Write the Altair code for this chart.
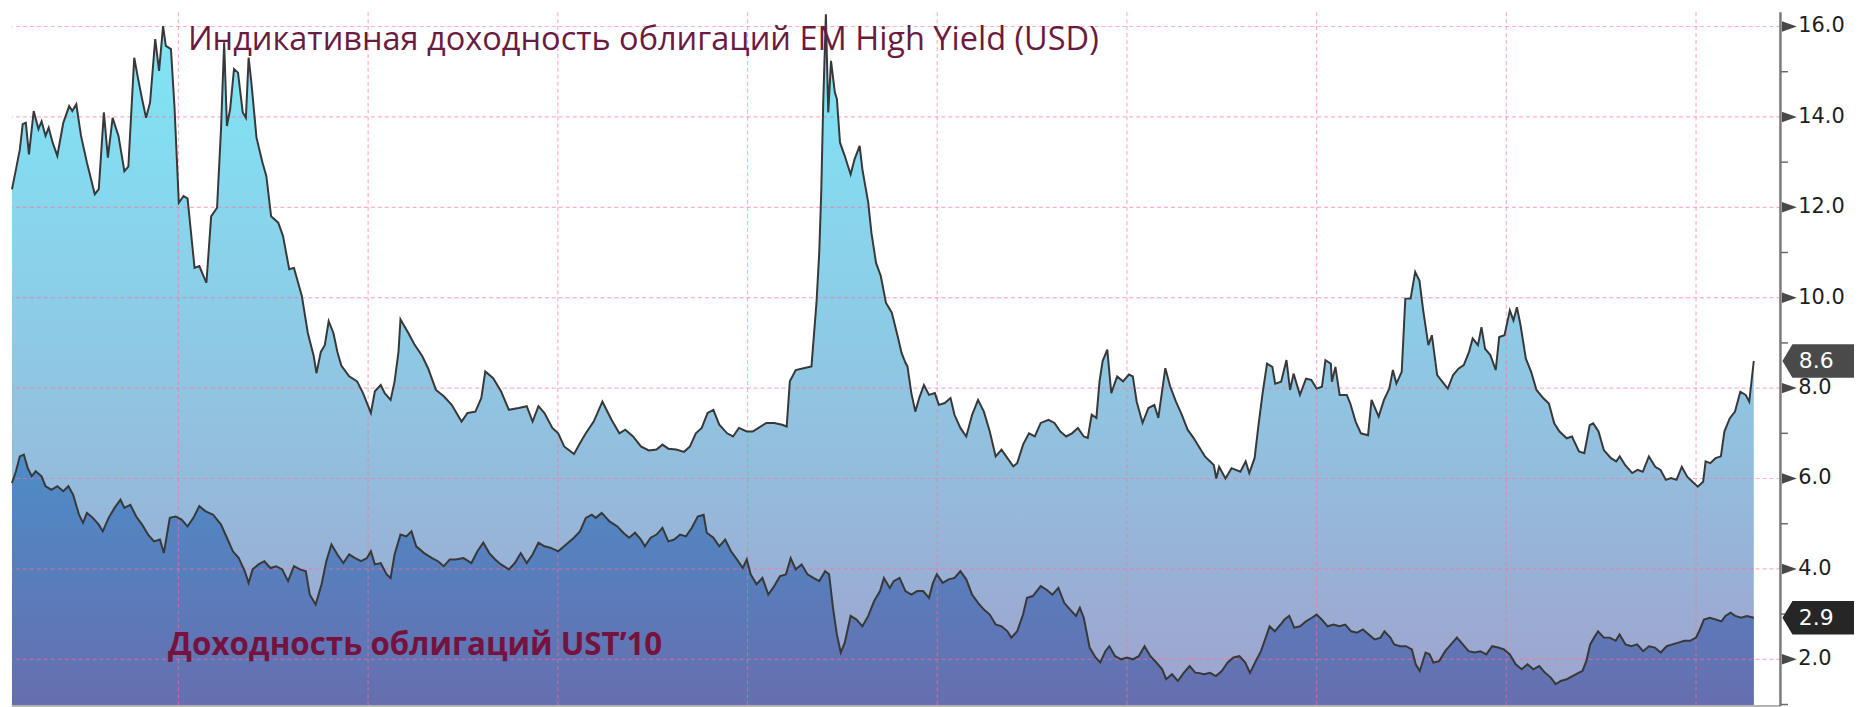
import altair as alt
import pandas as pd

# ---------------- data ----------------
em_years = [2000.245, 2000.287, 2000.328, 2000.358, 2000.391, 2000.424, 2000.474, 2000.524, 2000.557, 2000.599,
            2000.632, 2000.674, 2000.723, 2000.786, 2000.848, 2000.881, 2000.923, 2000.973, 2001.035, 2001.118,
            2001.160, 2001.214, 2001.256, 2001.306, 2001.368, 2001.430, 2001.472, 2001.534, 2001.576, 2001.617,
            2001.659, 2001.701, 2001.755, 2001.796, 2001.838, 2001.867, 2001.921, 2001.958, 2002.004, 2002.054,
            2002.096, 2002.170, 2002.220, 2002.295, 2002.345, 2002.407, 2002.449, 2002.482, 2002.511, 2002.545,
            2002.586, 2002.628, 2002.678, 2002.711, 2002.740, 2002.769, 2002.823, 2002.886, 2002.927, 2002.977,
            2003.052, 2003.102, 2003.168, 2003.218, 2003.301, 2003.364, 2003.426, 2003.455, 2003.501, 2003.543,
            2003.584, 2003.634, 2003.676, 2003.717, 2003.800, 2003.884, 2003.946, 2004.029, 2004.071, 2004.133,
            2004.175, 2004.237, 2004.279, 2004.320, 2004.341, 2004.424, 2004.487, 2004.570, 2004.632, 2004.715,
            2004.798, 2004.881, 2004.985, 2005.048, 2005.131, 2005.193, 2005.235, 2005.318, 2005.401, 2005.484,
            2005.588, 2005.672, 2005.734, 2005.796, 2005.859, 2005.942, 2006.004, 2006.067, 2006.170, 2006.233,
            2006.295, 2006.378, 2006.470, 2006.566, 2006.649, 2006.711, 2006.793, 2006.876, 2006.959, 2007.041,
            2007.103, 2007.165, 2007.248, 2007.331, 2007.393, 2007.455, 2007.517, 2007.579, 2007.640, 2007.702,
            2007.785, 2007.847, 2007.909, 2007.992, 2008.054, 2008.116, 2008.198, 2008.281, 2008.364, 2008.413,
            2008.446, 2008.508, 2008.591, 2008.674, 2008.727, 2008.756, 2008.777, 2008.798, 2008.826, 2008.851,
            2008.880, 2008.921, 2008.942, 2008.975, 2009.025, 2009.058, 2009.087, 2009.128, 2009.182, 2009.211,
            2009.273, 2009.306, 2009.355, 2009.405, 2009.459, 2009.521, 2009.583, 2009.624, 2009.665, 2009.686,
            2009.727, 2009.769, 2009.810, 2009.860, 2009.913, 2009.975, 2010.017, 2010.079, 2010.140, 2010.182,
            2010.244, 2010.306, 2010.368, 2010.430, 2010.492, 2010.554, 2010.616, 2010.678, 2010.740, 2010.802,
            2010.843, 2010.905, 2010.967, 2011.029, 2011.091, 2011.174, 2011.236, 2011.298, 2011.360, 2011.421,
            2011.483, 2011.545, 2011.587, 2011.628, 2011.678, 2011.711, 2011.744, 2011.793, 2011.835, 2011.897,
            2011.959, 2012.021, 2012.062, 2012.103, 2012.165, 2012.227, 2012.289, 2012.331, 2012.405, 2012.455,
            2012.517, 2012.579, 2012.640, 2012.702, 2012.748, 2012.822, 2012.916, 2012.942, 2012.972, 2013.039,
            2013.103, 2013.196, 2013.252, 2013.290, 2013.346, 2013.383, 2013.428, 2013.477, 2013.533, 2013.563,
            2013.626, 2013.682, 2013.720, 2013.757, 2013.824, 2013.888, 2013.944, 2014.000, 2014.056, 2014.093,
            2014.150, 2014.161, 2014.198, 2014.243, 2014.318, 2014.355, 2014.411, 2014.467, 2014.542, 2014.579,
            2014.654, 2014.710, 2014.766, 2014.804, 2014.841, 2014.897, 2014.935, 2014.991, 2015.039, 2015.084,
            2015.121, 2015.178, 2015.215, 2015.271, 2015.327, 2015.383, 2015.439, 2015.495, 2015.551, 2015.607,
            2015.645, 2015.701, 2015.738, 2015.776, 2015.832, 2015.888, 2015.925, 2015.981, 2016.037, 2016.075,
            2016.112, 2016.150, 2016.206, 2016.262, 2016.318, 2016.393, 2016.449, 2016.505, 2016.561, 2016.636,
            2016.692, 2016.766, 2016.822, 2016.879, 2016.916, 2016.972, 2017.028, 2017.103, 2017.159, 2017.196,
            2017.252, 2017.327, 2017.383, 2017.439, 2017.503, 2017.570, 2017.626, 2017.682, 2017.738, 2017.794,
            2017.850, 2017.907, 2017.963, 2018.019, 2018.075, 2018.101, 2018.150, 2018.206, 2018.262, 2018.299,
            2018.355, 2018.411, 2018.467, 2018.523, 2018.561, 2018.609]
em_values = [12.40, 12.84, 13.28, 13.84, 13.87, 13.17, 14.13, 13.73, 13.90, 13.58,
             13.76, 13.43, 13.14, 13.87, 14.24, 14.13, 14.28, 13.58, 12.99, 12.29,
             12.40, 14.10, 13.10, 13.98, 13.58, 12.80, 12.90, 15.31, 14.83, 14.39,
             13.98, 14.32, 15.72, 15.02, 16.01, 15.57, 15.50, 14.24, 12.10, 12.25,
             12.20, 10.66, 10.70, 10.33, 11.80, 11.99, 13.73, 15.65, 13.80, 14.17,
             15.06, 14.98, 14.10, 13.98, 15.31, 14.76, 13.54, 12.99, 12.69, 11.80,
             11.66, 11.37, 10.63, 10.66, 10.04, 9.22, 8.71, 8.33, 8.80, 8.95,
             9.48, 9.22, 8.80, 8.50, 8.26, 8.15, 7.89, 7.45, 7.93, 8.07,
             7.89, 7.74, 8.15, 8.80, 9.52, 9.22, 8.97, 8.71, 8.44, 7.96,
             7.82, 7.63, 7.26, 7.45, 7.48, 7.78, 8.37, 8.22, 7.93, 7.52,
             7.56, 7.60, 7.26, 7.60, 7.45, 7.12, 7.00, 6.71, 6.54, 6.78,
             7.00, 7.26, 7.70, 7.30, 7.00, 7.08, 6.93, 6.71, 6.62, 6.64,
             6.75, 6.66, 6.64, 6.59, 6.71, 7.00, 7.12, 7.45, 7.52, 7.19,
             7.00, 6.93, 7.12, 7.04, 7.04, 7.12, 7.23, 7.23, 7.19, 7.15,
             8.15, 8.40, 8.44, 8.48, 9.89, 11.00, 12.32, 14.32, 16.27, 14.10,
             15.24, 14.54, 14.40, 13.43, 13.14, 12.92, 12.73, 13.06, 13.36, 12.84,
             12.10, 11.44, 10.77, 10.48, 9.89, 9.67, 9.15, 8.78, 8.56, 8.48,
             7.89, 7.48, 7.78, 8.07, 7.85, 7.89, 7.63, 7.67, 7.78, 7.41,
             7.12, 6.93, 7.41, 7.74, 7.48, 7.04, 6.49, 6.64, 6.45, 6.27,
             6.34, 6.75, 7.00, 6.93, 7.23, 7.30, 7.23, 7.04, 6.93, 7.00,
             7.12, 6.93, 6.90, 7.41, 7.34, 8.15, 8.60, 8.85, 7.89, 8.26,
             8.15, 8.30, 8.26, 7.70, 7.23, 7.56, 7.63, 7.34, 8.44, 8.04,
             7.70, 7.41, 7.08, 6.90, 6.74, 6.49, 6.30, 6.00, 6.26, 6.00,
             6.23, 6.15, 6.38, 6.12, 6.45, 7.11, 7.85, 8.54, 8.47, 8.10,
             8.14, 8.62, 7.96, 8.32, 7.85, 8.21, 8.18, 7.99, 8.03, 8.62,
             8.54, 8.14, 8.47, 7.85, 7.85, 7.66, 7.26, 7.00, 6.96, 7.74,
             7.37, 7.74, 7.99, 8.40, 8.10, 8.36, 9.98, 9.98, 10.57, 10.38,
             9.76, 8.95, 9.17, 8.29, 8.14, 7.99, 8.29, 8.43, 8.51, 8.80,
             9.10, 8.95, 9.35, 8.87, 8.73, 8.40, 9.13, 9.17, 9.72, 9.50,
             9.79, 9.39, 8.65, 8.36, 7.96, 7.77, 7.66, 7.22, 7.04, 6.89,
             6.93, 6.60, 6.56, 7.18, 7.22, 7.04, 6.63, 6.45, 6.38, 6.49,
             6.30, 6.12, 6.19, 6.15, 6.49, 6.26, 6.19, 5.97, 6.01, 5.97,
             6.26, 6.04, 5.93, 5.82, 5.93, 6.38, 6.34, 6.45, 6.49, 7.04,
             7.33, 7.48, 7.92, 7.85, 7.70, 8.60]

ust_years = [2000.245, 2000.287, 2000.328, 2000.370, 2000.412, 2000.453, 2000.495, 2000.557, 2000.599, 2000.661,
             2000.723, 2000.786, 2000.840, 2000.890, 2000.952, 2000.994, 2001.035, 2001.098, 2001.160, 2001.202,
             2001.264, 2001.326, 2001.389, 2001.430, 2001.493, 2001.555, 2001.617, 2001.680, 2001.742, 2001.805,
             2001.846, 2001.909, 2001.971, 2002.033, 2002.096, 2002.158, 2002.220, 2002.283, 2002.366, 2002.449,
             2002.511, 2002.574, 2002.636, 2002.699, 2002.740, 2002.782, 2002.844, 2002.906, 2002.969, 2003.031,
             2003.094, 2003.156, 2003.218, 2003.281, 2003.343, 2003.385, 2003.447, 2003.509, 2003.559, 2003.613,
             2003.676, 2003.738, 2003.800, 2003.863, 2003.925, 2003.988, 2004.029, 2004.071, 2004.133, 2004.195,
             2004.237, 2004.279, 2004.341, 2004.403, 2004.457, 2004.507, 2004.590, 2004.674, 2004.736, 2004.798,
             2004.861, 2004.923, 2005.006, 2005.089, 2005.152, 2005.214, 2005.277, 2005.339, 2005.401, 2005.484,
             2005.547, 2005.609, 2005.672, 2005.734, 2005.796, 2005.859, 2005.921, 2006.004, 2006.087, 2006.170,
             2006.233, 2006.295, 2006.358, 2006.400, 2006.462, 2006.545, 2006.628, 2006.690, 2006.752, 2006.814,
             2006.876, 2006.917, 2006.979, 2007.041, 2007.103, 2007.165, 2007.227, 2007.289, 2007.351, 2007.413,
             2007.475, 2007.537, 2007.570, 2007.640, 2007.702, 2007.764, 2007.826, 2007.888, 2007.950, 2007.992,
             2008.033, 2008.095, 2008.157, 2008.219, 2008.281, 2008.343, 2008.405, 2008.455, 2008.508, 2008.570,
             2008.632, 2008.694, 2008.756, 2008.818, 2008.860, 2008.901, 2008.942, 2008.983, 2009.025, 2009.087,
             2009.149, 2009.211, 2009.273, 2009.335, 2009.397, 2009.438, 2009.500, 2009.541, 2009.603, 2009.665,
             2009.727, 2009.789, 2009.851, 2009.913, 2009.955, 2009.996, 2010.058, 2010.120, 2010.182, 2010.244,
             2010.306, 2010.368, 2010.430, 2010.492, 2010.554, 2010.616, 2010.678, 2010.740, 2010.781, 2010.843,
             2010.905, 2010.946, 2011.008, 2011.091, 2011.153, 2011.215, 2011.277, 2011.339, 2011.401, 2011.463,
             2011.504, 2011.545, 2011.607, 2011.669, 2011.719, 2011.773, 2011.814, 2011.876, 2011.938, 2012.000,
             2012.062, 2012.124, 2012.186, 2012.248, 2012.310, 2012.372, 2012.413, 2012.475, 2012.537, 2012.599,
             2012.661, 2012.723, 2012.752, 2012.814, 2012.876, 2012.938, 2013.000, 2013.062, 2013.124, 2013.186,
             2013.248, 2013.298, 2013.351, 2013.413, 2013.475, 2013.504, 2013.558, 2013.620, 2013.661, 2013.711,
             2013.764, 2013.826, 2013.888, 2013.950, 2014.000, 2014.054, 2014.116, 2014.178, 2014.240, 2014.302,
             2014.364, 2014.426, 2014.488, 2014.550, 2014.612, 2014.674, 2014.715, 2014.777, 2014.818, 2014.880,
             2014.942, 2015.004, 2015.045, 2015.087, 2015.149, 2015.190, 2015.231, 2015.293, 2015.355, 2015.417,
             2015.479, 2015.541, 2015.603, 2015.665, 2015.727, 2015.789, 2015.851, 2015.913, 2015.975, 2016.037,
             2016.099, 2016.161, 2016.223, 2016.285, 2016.347, 2016.409, 2016.471, 2016.521, 2016.574, 2016.636,
             2016.698, 2016.760, 2016.802, 2016.843, 2016.884, 2016.926, 2016.967, 2017.029, 2017.091, 2017.153,
             2017.194, 2017.256, 2017.318, 2017.380, 2017.442, 2017.504, 2017.566, 2017.628, 2017.690, 2017.752,
             2017.814, 2017.876, 2017.938, 2018.000, 2018.041, 2018.083, 2018.145, 2018.207, 2018.269, 2018.310,
             2018.364, 2018.413, 2018.475, 2018.537, 2018.609]
ust_values = [5.90, 6.16, 6.49, 6.53, 6.23, 6.05, 6.16, 6.05, 5.83, 5.75,
              5.83, 5.72, 5.83, 5.64, 5.20, 5.02, 5.24, 5.13, 4.98, 4.83,
              5.13, 5.35, 5.53, 5.35, 5.42, 5.16, 4.98, 4.76, 4.61, 4.65,
              4.35, 5.13, 5.16, 5.09, 4.94, 5.13, 5.39, 5.28, 5.20, 4.98,
              4.69, 4.39, 4.24, 3.95, 3.69, 3.99, 4.10, 4.17, 4.02, 4.06,
              3.99, 3.73, 4.06, 3.99, 3.95, 3.43, 3.21, 3.66, 4.17, 4.54,
              4.32, 4.13, 4.32, 4.24, 4.17, 4.24, 4.39, 4.10, 4.13, 3.88,
              3.80, 4.32, 4.76, 4.72, 4.83, 4.50, 4.35, 4.24, 4.17, 4.06,
              4.21, 4.21, 4.24, 4.13, 4.39, 4.58, 4.35, 4.21, 4.10, 3.99,
              4.13, 4.35, 4.13, 4.32, 4.58, 4.50, 4.47, 4.39, 4.54, 4.69,
              4.83, 5.13, 5.20, 5.13, 5.24, 5.05, 4.94, 4.80, 4.69, 4.80,
              4.65, 4.50, 4.69, 4.76, 4.91, 4.61, 4.65, 4.76, 4.72, 4.91,
              5.16, 5.20, 4.80, 4.69, 4.50, 4.65, 4.39, 4.21, 4.02, 4.21,
              3.88, 3.66, 3.80, 3.43, 3.62, 3.84, 3.88, 4.24, 3.99, 4.10,
              3.88, 3.80, 3.73, 3.95, 3.88, 3.14, 2.55, 2.15, 2.37, 2.96,
              2.88, 2.73, 2.96, 3.29, 3.51, 3.80, 3.58, 3.73, 3.80, 3.51,
              3.43, 3.51, 3.51, 3.36, 3.69, 3.88, 3.69, 3.77, 3.80, 3.95,
              3.77, 3.43, 3.25, 3.10, 2.99, 2.77, 2.73, 2.62, 2.48, 2.62,
              2.99, 3.36, 3.40, 3.62, 3.54, 3.43, 3.58, 3.25, 3.10, 2.96,
              3.14, 2.92, 2.26, 2.04, 1.93, 2.18, 2.29, 2.07, 2.00, 2.04,
              2.00, 2.07, 2.29, 2.07, 1.93, 1.78, 1.56, 1.67, 1.52, 1.70,
              1.85, 1.70, 1.70, 1.67, 1.70, 1.63, 1.74, 1.93, 2.04, 2.07,
              1.93, 1.70, 1.93, 2.18, 2.55, 2.73, 2.62, 2.77, 2.88, 2.96,
              2.70, 2.73, 2.84, 2.92, 2.99, 2.88, 2.73, 2.77, 2.73, 2.77,
              2.62, 2.59, 2.66, 2.55, 2.44, 2.48, 2.62, 2.48, 2.33, 2.29,
              2.29, 2.22, 1.89, 1.74, 2.15, 2.11, 1.93, 1.96, 2.18, 2.33,
              2.48, 2.33, 2.18, 2.15, 2.18, 2.11, 2.29, 2.26, 2.22, 2.11,
              1.89, 1.78, 1.89, 1.78, 1.85, 1.70, 1.59, 1.45, 1.52, 1.56,
              1.63, 1.70, 1.74, 1.96, 2.33, 2.48, 2.62, 2.48, 2.48, 2.41,
              2.55, 2.33, 2.29, 2.33, 2.18, 2.29, 2.26, 2.15, 2.29, 2.33,
              2.37, 2.41, 2.41, 2.48, 2.66, 2.88, 2.92, 2.88, 2.84, 2.96,
              3.03, 2.96, 2.92, 2.96, 2.92]

grid_years = [2002, 2004, 2006, 2008, 2010, 2012, 2014, 2016, 2018]
grid_values = [2, 4, 6, 8, 10, 12, 14, 16]
minor_values = [1, 3, 5, 7, 9, 11, 13, 15]
x_domain = [2000.245, 2018.89]
y_domain = [0.966, 16.317]

title_text = "Индикативная доходность облигаций EM High Yield (USD)"
title_pos = [2002.10, 15.48]
ust_text = "Доходность облигаций UST’10"
ust_pos = [2001.891, 2.09]

# ---------------- frames ----------------
x_end = x_domain[1]
em_df = pd.DataFrame({"year": em_years, "value": em_values})
ust_df = pd.DataFrame({"year": ust_years, "value": ust_values})
major_df = pd.DataFrame({"year": [x_end] * len(grid_values), "value": grid_values,
                         "label": [f"{v:.1f}" for v in grid_values]})
minor_df = pd.DataFrame({"year": [x_end] * len(minor_values), "value": minor_values})
edge_df = pd.DataFrame({"year": [x_end], "value": [y_domain[0]]})
tags_df = pd.DataFrame({
    "year": [x_end, x_end],
    "series": ["em", "ust"],
    "value": [em_values[-1], ust_values[-1]],
    "label": [f"{em_values[-1]:.1f}", f"{ust_values[-1]:.1f}"],
})
title_df = pd.DataFrame({"year": [title_pos[0]], "value": [title_pos[1]], "text": [title_text]})
ust_note_df = pd.DataFrame({"year": [ust_pos[0]], "value": [ust_pos[1]], "text": [ust_text]})

xs = alt.Scale(domain=x_domain, nice=False, zero=False)
ys = alt.Scale(domain=y_domain, nice=False, zero=False)
X = alt.X("year:Q", scale=xs, axis=None)
Y = alt.Y("value:Q", scale=ys, axis=None)

em_grad = alt.Gradient(
    gradient="linear", x1=0, x2=0, y1=0, y2=1,
    stops=[
        alt.GradientStop(color="#7ee7f7", offset=0.0),
        alt.GradientStop(color="#88d5ec", offset=0.28),
        alt.GradientStop(color="#91c3e0", offset=0.54),
        alt.GradientStop(color="#95b9da", offset=0.67),
        alt.GradientStop(color="#9aadd3", offset=0.80),
        alt.GradientStop(color="#9ea4cd", offset=0.93),
        alt.GradientStop(color="#a09fca", offset=1.0),
    ],
)
ust_grad = alt.Gradient(
    gradient="linear", x1=0, x2=0, y1=0, y2=1,
    stops=[
        alt.GradientStop(color="#4b8dc8", offset=0.0),
        alt.GradientStop(color="#4f8ac5", offset=0.09),
        alt.GradientStop(color="#5a7cbb", offset=0.45),
        alt.GradientStop(color="#6570b0", offset=0.81),
        alt.GradientStop(color="#6a66a9", offset=1.0),
    ],
)

em_area = alt.Chart(em_df).mark_area(color=em_grad).encode(x=X, y=Y)
ust_area = alt.Chart(ust_df).mark_area(color=ust_grad).encode(x=X, y=Y)

grid_style = dict(color="#ff6f96", opacity=0.55, strokeDash=[4, 3], strokeWidth=1.2)
vgrid = alt.Chart(pd.DataFrame({"year": grid_years})).mark_rule(**grid_style).encode(x=X)
hgrid = alt.Chart(major_df).mark_rule(**grid_style).encode(y=Y)

em_line = alt.Chart(em_df).mark_line(color="#383838", strokeWidth=2).encode(x=X, y=Y)
ust_line = alt.Chart(ust_df).mark_line(color="#383838", strokeWidth=2).encode(x=X, y=Y)

# right-hand value axis, drawn from the tick lists
bottom_line = alt.Chart(edge_df).mark_rule(color="#b4b4b4", strokeWidth=2).encode(y=Y)
axis_line = alt.Chart(edge_df).mark_rule(color="#7a7a7a", strokeWidth=2.5).encode(x=X)
minor_ticks = alt.Chart(minor_df).mark_point(
    shape="M-1,0L1,0", filled=False, opacity=1, color="#6a6a6a", strokeWidth=1.5, size=49, xOffset=4
).encode(x=X, y=Y)
tri = alt.Chart(major_df).mark_point(
    shape="M-1,-0.7L1,0L-1,0.7Z", filled=True, opacity=1, color="#484848", size=225, xOffset=9
).encode(x=X, y=Y)
tick_labels = alt.Chart(major_df).mark_text(
    align="left", baseline="middle", font="DejaVu Sans", fontSize=21, color="#1e1e1e", xOffset=18
).encode(x=X, y=Y, text="label:N")

tags = alt.Chart(tags_df).mark_point(
    shape="M-1,0L-0.72,-0.47L1,-0.47L1,0.47L-0.72,0.47Z", filled=True, opacity=1, size=5184, xOffset=38
).encode(
    x=X, y=Y,
    color=alt.Color("series:N", scale=alt.Scale(domain=["em", "ust"], range=["#4a4a4a", "#262626"]), legend=None),
)
tag_text = alt.Chart(tags_df).mark_text(
    color="white", font="DejaVu Sans", fontSize=22, align="center", baseline="middle", xOffset=36
).encode(x=X, y=Y, text="label:N")

title_mark = alt.Chart(title_df).mark_text(
    align="left", baseline="alphabetic", font="Open Sans", fontSize=32.7, color="#6a1b3f"
).encode(x=X, y=Y, text="text:N")
ust_mark = alt.Chart(ust_note_df).mark_text(
    align="left", baseline="alphabetic", font="Open Sans", fontSize=31.5, fontWeight="bold", color="#75123e"
).encode(x=X, y=Y, text="text:N")

chart = alt.layer(
    em_area, ust_area, vgrid, hgrid, em_line, ust_line,
    bottom_line, axis_line, minor_ticks, tri, tick_labels,
    tags, tag_text, title_mark, ust_mark
).properties(width=1779, height=698, padding=0, background="white").configure_view(stroke=None)

chart.save("out.html", embed_options={"renderer": "svg", "actions": False})
